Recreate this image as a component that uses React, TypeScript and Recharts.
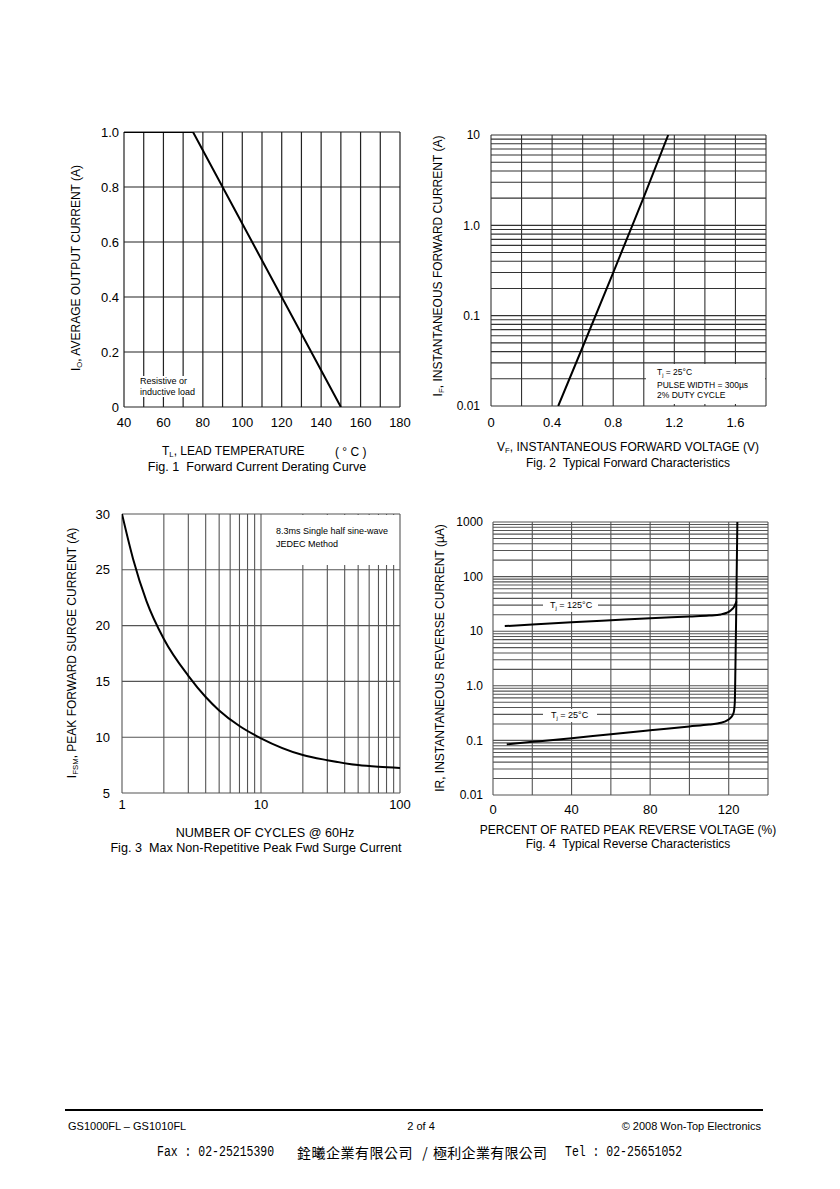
import React from 'react';
import { LineChart, Line, XAxis, YAxis, CartesianGrid } from 'recharts';

const FONT = '"Liberation Sans", Arial, Helvetica, sans-serif';

// ---------- Fig. 1 Forward Current Derating Curve ----------
const fig1Temperature = [40, 75, 150];
const fig1Current = [1.0, 1.0, 0.0];
const fig1XTicks = [40, 50, 60, 70, 80, 90, 100, 110, 120, 130, 140, 150, 160, 170, 180];
const fig1XLabels = [40, 60, 80, 100, 120, 140, 160, 180];
const fig1YTicks = [0, 0.2, 0.4, 0.6, 0.8, 1.0];
const fig1YLabels = ['0', '0.2', '0.4', '0.6', '0.8', '1.0'];

// ---------- Fig. 2 Typical Forward Characteristics ----------
const fig2Voltage = [0.44, 0.6, 0.8, 0.92, 1.0, 1.16];
const fig2Current = [0.01, 0.045, 0.3, 0.95, 2.05, 10];
const fig2XTicks = [0, 0.2, 0.4, 0.6, 0.8, 1.0, 1.2, 1.4, 1.6, 1.8];
const fig2XLabels = [0, 0.4, 0.8, 1.2, 1.6];
const fig2YTicks = [
  0.01, 0.02, 0.03, 0.04, 0.05, 0.06, 0.07, 0.08, 0.09,
  0.1, 0.2, 0.3, 0.4, 0.5, 0.6, 0.7, 0.8, 0.9,
  1, 2, 3, 4, 5, 6, 7, 8, 9, 10,
];
const fig2YLabelValues = [0.01, 0.1, 1, 10];
const fig2YLabelTexts = ['0.01', '0.1', '1.0', '10'];

// ---------- Fig. 3 Max Non-Repetitive Peak Fwd Surge Current ----------
const fig3Cycles = [1, 1.2, 1.5, 2, 3, 4, 5, 7, 10, 20, 30, 50, 70, 100];
const fig3Surge = [30, 26.0, 22.2, 18.8, 15.5, 13.6, 12.4, 11.0, 9.9, 8.4, 7.94, 7.5, 7.35, 7.25];
const fig3XTicks = [1, 2, 3, 4, 5, 6, 7, 8, 9, 10, 20, 30, 40, 50, 60, 70, 80, 90, 100];
const fig3XLabels = [1, 10, 100];
const fig3YTicks = [5, 10, 15, 20, 25, 30];

// ---------- Fig. 4 Typical Reverse Characteristics ----------
const fig4Percent125 = [6, 20, 40, 60, 80, 100, 110, 116, 119, 121, 123, 124];
const fig4Current125 = [12.4, 13.3, 14.6, 15.9, 17.3, 18.6, 19.3, 20.3, 21.8, 24, 29, 35];
const fig4Percent25 = [7, 20, 40, 60, 80, 100, 110, 116, 119, 121, 122.5, 123.1, 123.4, 123.8, 124.1, 124.4];
const fig4Current25 = [0.085, 0.094, 0.11, 0.13, 0.153, 0.18, 0.195, 0.21, 0.23, 0.26, 0.32, 0.5, 2, 20, 150, 1000];
const fig4XTicks = [0, 20, 40, 60, 80, 100, 120, 140];
const fig4XLabels = [0, 40, 80, 120];
const fig4YTicks = [
  0.01, 0.02, 0.03, 0.04, 0.05, 0.06, 0.07, 0.08, 0.09,
  0.1, 0.2, 0.3, 0.4, 0.5, 0.6, 0.7, 0.8, 0.9,
  1, 2, 3, 4, 5, 6, 7, 8, 9,
  10, 20, 30, 40, 50, 60, 70, 80, 90,
  100, 200, 300, 400, 500, 600, 700, 800, 900, 1000,
];
const fig4YLabelValues = [0.01, 0.1, 1, 10, 100, 1000];
const fig4YLabelTexts = ['0.01', '0.1', '1.0', '10', '100', '1000'];

const zip = (xs: number[], ys: number[]) => xs.map((x, i) => ({ x, y: ys[i] }));

const fig1Data = zip(fig1Temperature, fig1Current);
const fig2Data = zip(fig2Voltage, fig2Current);
const fig3Data = zip(fig3Cycles, fig3Surge);
const fig4Data125 = zip(fig4Percent125, fig4Current125);
const fig4Data25 = zip(fig4Percent25, fig4Current25);

const labelIf = (labels: number[]) => (v: number) => (labels.indexOf(v) >= 0 ? String(v) : '');
const labelMap = (vals: number[], texts: string[]) => (v: number) => {
  const i = vals.indexOf(v);
  return i >= 0 ? texts[i] : '';
};

type TxtProps = {
  x: number;
  y: number;
  size?: number;
  anchor?: 'start' | 'middle' | 'end';
  family?: string;
  style?: React.CSSProperties;
  children: React.ReactNode;
};

function Txt({ x, y, size = 12, anchor = 'middle', family = FONT, style, children }: TxtProps) {
  const tx = anchor === 'middle' ? '-50%' : anchor === 'end' ? '-100%' : '0';
  return (
    <div
      style={{
        position: 'absolute',
        left: x,
        top: y,
        transform: `translate(${tx}, -50%)`,
        whiteSpace: 'nowrap',
        fontSize: size,
        lineHeight: 1,
        fontFamily: family,
        color: '#000',
        ...style,
      }}
    >
      {children}
    </div>
  );
}

function RotTxt({ x, y, size = 12, children }: { x: number; y: number; size?: number; children: React.ReactNode }) {
  return (
    <div
      style={{
        position: 'absolute',
        left: x,
        top: y,
        transform: 'translate(-50%, -50%) rotate(-90deg)',
        whiteSpace: 'nowrap',
        fontSize: size,
        lineHeight: 1,
        fontFamily: FONT,
        color: '#000',
      }}
    >
      {children}
    </div>
  );
}

const Sub = ({ children }: { children: React.ReactNode }) => (
  <span style={{ fontSize: '0.65em', verticalAlign: '-0.35em' }}>{children}</span>
);

function Box({ x, y, w, h, children }: { x: number; y: number; w: number; h: number; children?: React.ReactNode }) {
  return (
    <div style={{ position: 'absolute', left: x, top: y, width: w, height: h, background: '#fff' }}>{children}</div>
  );
}

const boxText = (left: number, top: number, size: number, lh: number): React.CSSProperties => ({
  position: 'absolute',
  left,
  top,
  fontSize: size,
  lineHeight: `${lh}px`,
  fontFamily: FONT,
  whiteSpace: 'nowrap',
  color: '#000',
});

const tickStyle = (size: number) => ({ fontSize: size, fill: '#000', fontFamily: FONT });

export default function App() {
  return (
    <div
      style={{
        position: 'absolute',
        left: 0,
        top: 0,
        width: 840,
        height: 1189,
        background: '#fff',
        fontFamily: FONT,
        overflow: 'hidden',
      }}
    >
      {/* ---------------- Fig 1 ---------------- */}
      <div style={{ position: 'absolute', left: 60, top: 110 }}>
        <LineChart width={360} height={340} data={fig1Data} margin={{ top: 22, right: 20, bottom: 13, left: 20 }}>
          <CartesianGrid stroke="#222" strokeWidth={1.2} />
          <XAxis
            dataKey="x"
            type="number"
            domain={[40, 180]}
            ticks={fig1XTicks}
            interval={0}
            tickFormatter={labelIf(fig1XLabels)}
            tick={tickStyle(13)}
            tickLine={false}
            axisLine={false}
            tickSize={0}
            tickMargin={11}
            height={30}
            allowDataOverflow
          />
          <YAxis
            type="number"
            domain={[0, 1]}
            ticks={fig1YTicks}
            interval={0}
            tickFormatter={labelMap(fig1YTicks, fig1YLabels)}
            tick={tickStyle(13)}
            tickLine={false}
            axisLine={false}
            tickSize={0}
            tickMargin={5}
            width={44}
            allowDataOverflow
          />
          <Line dataKey="y" type="linear" stroke="#000" strokeWidth={2} dot={false} isAnimationActive={false} />
        </LineChart>
      </div>
      <Box x={138} y={376} w={58} h={21}>
        <div style={boxText(2, 0, 9, 11)}>
          Resistive or
          <br />
          inductive load
        </div>
      </Box>
      <RotTxt x={77} y={268}>
        I<Sub>O</Sub>, AVERAGE OUTPUT CURRENT (A)
      </RotTxt>
      <Txt x={162} y={452} anchor="start">
        T<Sub>L</Sub>, LEAD TEMPERATURE
      </Txt>
      <Txt x={335} y={452} anchor="start">
        (&nbsp;°&nbsp;C&nbsp;)
      </Txt>
      <Txt x={257} y={467} size={12.6}>
        Fig. 1&nbsp;&nbsp;Forward Current Derating Curve
      </Txt>

      {/* ---------------- Fig 2 ---------------- */}
      <div style={{ position: 'absolute', left: 430, top: 115 }}>
        <LineChart width={360} height={340} data={fig2Data} margin={{ top: 20, right: 24, bottom: 19, left: 20 }}>
          <CartesianGrid stroke="#333" strokeWidth={1.1} />
          <XAxis
            dataKey="x"
            type="number"
            domain={[0, 1.8]}
            ticks={fig2XTicks}
            interval={0}
            tickFormatter={labelIf(fig2XLabels)}
            tick={tickStyle(13)}
            tickLine={false}
            axisLine={false}
            tickSize={0}
            tickMargin={12}
            height={30}
            allowDataOverflow
          />
          <YAxis
            type="number"
            scale="log"
            domain={[0.01, 10]}
            ticks={fig2YTicks}
            interval={0}
            tickFormatter={labelMap(fig2YLabelValues, fig2YLabelTexts)}
            tick={tickStyle(12)}
            tickLine={false}
            axisLine={false}
            tickSize={0}
            tickMargin={11}
            width={41}
            allowDataOverflow
          />
          <Line dataKey="y" type="linear" stroke="#000" strokeWidth={2} dot={false} isAnimationActive={false} />
        </LineChart>
      </div>
      <Box x={646} y={364} w={119} h={40}>
        <div style={boxText(11, 3, 8.5, 10)}>
          T<Sub>j</Sub> = 25°C
          <br />
          PULSE WIDTH = 300µs
          <br />
          2% DUTY CYCLE
        </div>
      </Box>
      <RotTxt x={439} y={266}>
        I<Sub>F</Sub>, INSTANTANEOUS FORWARD CURRENT (A)
      </RotTxt>
      <Txt x={628} y={448}>
        V<Sub>F</Sub>, INSTANTANEOUS FORWARD VOLTAGE (V)
      </Txt>
      <Txt x={628} y={463}>
        Fig. 2&nbsp;&nbsp;Typical Forward Characteristics
      </Txt>

      {/* ---------------- Fig 3 ---------------- */}
      <div style={{ position: 'absolute', left: 60, top: 495 }}>
        <LineChart width={360} height={340} data={fig3Data} margin={{ top: 19, right: 20, bottom: 12, left: 20 }}>
          <CartesianGrid stroke="#555" strokeWidth={1.1} />
          <XAxis
            dataKey="x"
            type="number"
            scale="log"
            domain={[1, 100]}
            ticks={fig3XTicks}
            interval={0}
            tickFormatter={labelIf(fig3XLabels)}
            tick={tickStyle(13)}
            tickLine={false}
            axisLine={false}
            tickSize={0}
            tickMargin={7}
            height={30}
            allowDataOverflow
          />
          <YAxis
            type="number"
            domain={[5, 30]}
            ticks={fig3YTicks}
            interval={0}
            tick={tickStyle(13)}
            tickLine={false}
            axisLine={false}
            tickSize={0}
            tickMargin={12}
            width={42}
            allowDataOverflow
          />
          <Line dataKey="y" type="monotone" stroke="#000" strokeWidth={2} dot={false} isAnimationActive={false} />
        </LineChart>
      </div>
      <Box x={263} y={515} w={136} h={50}>
        <div style={boxText(13, 10, 9, 13)}>
          8.3ms Single half sine-wave
          <br />
          JEDEC Method
        </div>
      </Box>
      <RotTxt x={73} y={653}>
        I<Sub>FSM</Sub>, PEAK FORWARD SURGE CURRENT (A)
      </RotTxt>
      <Txt x={265} y={833} size={12.6}>
        NUMBER OF CYCLES @ 60Hz
      </Txt>
      <Txt x={256} y={848} size={12.6}>
        Fig. 3&nbsp;&nbsp;Max Non-Repetitive Peak Fwd Surge Current
      </Txt>

      {/* ---------------- Fig 4 ---------------- */}
      <div style={{ position: 'absolute', left: 430, top: 500 }}>
        <LineChart width={360} height={340} margin={{ top: 22, right: 22, bottom: 15, left: 20 }}>
          <CartesianGrid stroke="#555" strokeWidth={1.1} />
          <XAxis
            dataKey="x"
            type="number"
            domain={[0, 140]}
            ticks={fig4XTicks}
            interval={0}
            tickFormatter={labelIf(fig4XLabels)}
            tick={tickStyle(13)}
            tickLine={false}
            axisLine={false}
            tickSize={0}
            tickMargin={10}
            height={30}
            allowDataOverflow
          />
          <YAxis
            type="number"
            scale="log"
            domain={[0.01, 1000]}
            ticks={fig4YTicks}
            interval={0}
            tickFormatter={labelMap(fig4YLabelValues, fig4YLabelTexts)}
            tick={tickStyle(12)}
            tickLine={false}
            axisLine={false}
            tickSize={0}
            tickMargin={10}
            width={43}
            allowDataOverflow
          />
          <Line data={fig4Data125} dataKey="y" type="monotone" stroke="#000" strokeWidth={2} dot={false} isAnimationActive={false} />
          <Line data={fig4Data25} dataKey="y" type="monotone" stroke="#000" strokeWidth={2} dot={false} isAnimationActive={false} />
        </LineChart>
      </div>
      <Box x={543} y={599} w={55} h={13}>
        <div style={boxText(7, 1, 9, 11)}>
          T<Sub>j</Sub> = 125°C
        </div>
      </Box>
      <Box x={543} y={709} w={54} h={13}>
        <div style={boxText(8, 1, 9, 11)}>
          T<Sub>j</Sub> = 25°C
        </div>
      </Box>
      <RotTxt x={440} y={658}>
        IR, INSTANTANEOUS REVERSE CURRENT (µA)
      </RotTxt>
      <Txt x={628} y={830}>PERCENT OF RATED PEAK REVERSE VOLTAGE (%)</Txt>
      <Txt x={628} y={844}>Fig. 4&nbsp;&nbsp;Typical Reverse Characteristics</Txt>

      {/* ---------------- Footer ---------------- */}
      <div style={{ position: 'absolute', left: 65, top: 1109, width: 698, height: 2, background: '#000' }} />
      <Txt x={68} y={1126} size={11} anchor="start">
        GS1000FL – GS1010FL
      </Txt>
      <Txt x={421} y={1126} size={11}>
        2 of 4
      </Txt>
      <Txt x={761} y={1126} size={11} anchor="end">
        © 2008 Won-Top Electronics
      </Txt>
      <Txt
        x={157}
        y={1152}
        size={14}
        anchor="start"
        family='"Liberation Mono", "DejaVu Sans Mono", monospace'
        style={{ transform: 'translate(0,-50%) scaleX(0.82)', transformOrigin: '0 50%' }}
      >
        Fax : 02-25215390
      </Txt>
      <Txt x={297} y={1152} size={14} anchor="start" family='"Noto Sans CJK TC", "Noto Sans CJK SC", sans-serif' style={{ letterSpacing: 0.5 }}>
        銓曦企業有限公司
      </Txt>
      <Txt x={425} y={1152} size={14} family='"Noto Sans CJK TC", "Noto Sans CJK SC", sans-serif'>
        /
      </Txt>
      <Txt x={433} y={1152} size={14} anchor="start" family='"Noto Sans CJK TC", "Noto Sans CJK SC", sans-serif' style={{ letterSpacing: 0.3 }}>
        極利企業有限公司
      </Txt>
      <Txt
        x={565}
        y={1152}
        size={14}
        anchor="start"
        family='"Liberation Mono", "DejaVu Sans Mono", monospace'
        style={{ transform: 'translate(0,-50%) scaleX(0.82)', transformOrigin: '0 50%' }}
      >
        Tel : 02-25651052
      </Txt>
    </div>
  );
}
